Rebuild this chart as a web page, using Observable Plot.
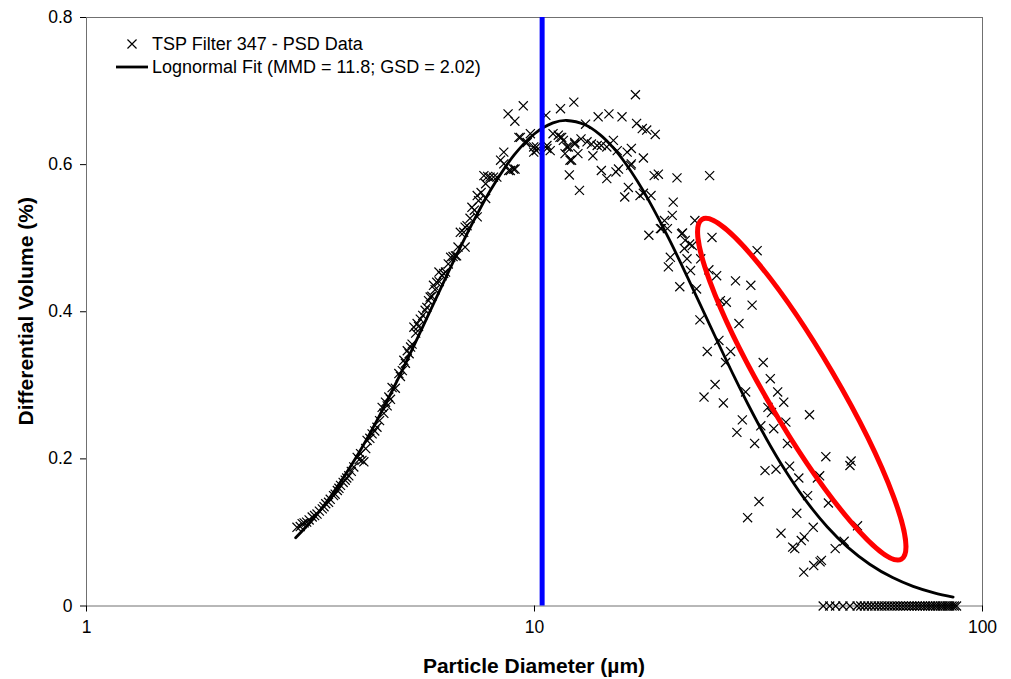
<!DOCTYPE html>
<html>
<head>
<meta charset="utf-8">
<script src="https://cdn.jsdelivr.net/npm/d3@7"></script>
<script src="https://cdn.jsdelivr.net/npm/@observablehq/plot@0.6"></script>
<style>
  html, body { margin: 0; padding: 0; background: #fff; }
  #chart { width: 1011px; height: 679px; }
</style>
</head>
<body>
<div id="chart"></div>
<script>
// Measured particle size distribution (diameter in µm, differential volume in %)
const psdDiameter = [
  2.95, 3.00, 3.03, 3.06, 3.10, 3.14, 3.19, 3.23, 3.27, 3.31, 3.36, 3.39, 3.42, 3.47, 3.50, 3.56, 3.59, 3.63, 3.66, 3.69,
  3.74, 3.78, 3.81, 3.85, 3.90, 3.95, 4.02, 4.06, 4.09, 4.12, 4.16, 4.20, 4.23, 4.29, 4.34, 4.40, 4.45, 4.51, 4.57, 4.61,
  4.65, 4.69, 4.73, 4.77, 4.81, 4.89, 4.98, 5.02, 5.07, 5.11, 5.15, 5.20, 5.25, 5.29, 5.33, 5.38, 5.43, 5.47, 5.51, 5.56,
  5.63, 5.70, 5.75, 5.80, 5.85, 5.90, 5.95, 6.00, 6.05, 6.12, 6.13, 6.22, 6.27, 6.33, 6.42, 6.50, 6.58, 6.66, 6.70, 6.75,
  6.83, 6.95, 7.00, 7.00, 7.07, 7.18, 7.25, 7.34, 7.45, 7.45, 7.50, 7.60, 7.71, 7.78, 7.78, 7.86, 7.96, 8.10, 8.24, 8.40,
  8.54, 8.54, 8.73, 8.76, 8.83, 8.98, 9.04, 9.05, 9.23, 9.30, 9.44, 9.55, 9.63, 9.79, 9.96, 9.96, 10.1, 10.1, 10.6, 10.66,
  10.66, 10.84, 11.0, 11.3, 11.4, 11.43, 11.5, 11.6, 11.7, 11.8, 11.9, 11.96, 12.0, 12.1, 12.24, 12.3, 12.3, 12.5, 12.6, 12.7,
  13.0, 13.1, 13.4, 13.5, 13.8, 13.87, 14.1, 14.1, 14.5, 14.5, 14.66, 15.0, 15.2, 15.3, 15.4, 15.68, 15.9, 16.1, 16.2, 16.4,
  16.45, 16.45, 16.8, 16.9, 17.2, 17.4, 17.5, 17.5, 17.8, 18.0, 18.2, 18.5, 18.6, 18.9, 19.1, 19.2, 19.5, 19.8, 19.9, 20.1,
  20.3, 20.4, 20.8, 21.1, 21.3, 21.4, 21.6, 21.7, 21.9, 22.2, 22.3, 22.5, 22.8, 23.0, 23.4, 23.5, 23.9, 24.3, 24.5, 24.6,
  24.9, 25.3, 25.5, 25.8, 26.0, 26.4, 26.7, 26.8, 27.4, 28.1, 28.3, 28.6, 29.1, 29.6, 29.9, 30.4, 30.6, 31.0, 31.4, 31.7,
  32.0, 32.4, 32.7, 33.2, 33.6, 33.8, 34.2, 34.6, 34.9, 35.5, 36.0, 36.4, 36.7, 37.1, 37.7, 38.1, 38.5, 38.9, 39.4, 39.9,
  40.0, 40.7, 41.1, 41.9, 42.0, 42.8, 43.3, 43.4, 43.7, 44.7, 45.3, 46.9, 49.1, 50.6, 50.9, 52.6
];
const psdVolume = [
  0.107, 0.108, 0.112, 0.113, 0.114, 0.117, 0.121, 0.123, 0.125, 0.129, 0.132, 0.135, 0.139, 0.141, 0.145, 0.150, 0.152, 0.157, 0.160, 0.164,
  0.168, 0.171, 0.174, 0.177, 0.183, 0.189, 0.202, 0.199, 0.207, 0.198, 0.196, 0.214, 0.225, 0.228, 0.234, 0.238, 0.243, 0.252, 0.270, 0.262,
  0.277, 0.272, 0.284, 0.281, 0.297, 0.296, 0.316, 0.312, 0.320, 0.334, 0.330, 0.347, 0.343, 0.352, 0.356, 0.379, 0.371, 0.384, 0.380, 0.390,
  0.395, 0.402, 0.406, 0.415, 0.420, 0.421, 0.436, 0.430, 0.440, 0.454, 0.441, 0.449, 0.452, 0.454, 0.465, 0.474, 0.475, 0.476, 0.476, 0.488,
  0.508, 0.508, 0.515, 0.488, 0.517, 0.527, 0.542, 0.538, 0.558, 0.529, 0.551, 0.562, 0.585, 0.554, 0.574, 0.584, 0.583, 0.583, 0.583, 0.606,
  0.617, 0.601, 0.669, 0.592, 0.592, 0.594, 0.659, 0.594, 0.637, 0.637, 0.680, 0.630, 0.630, 0.642, 0.624, 0.617, 0.619, 0.624, 0.667, 0.622,
  0.626, 0.619, 0.642, 0.640, 0.637, 0.676, 0.637, 0.633, 0.615, 0.624, 0.624, 0.586, 0.606, 0.606, 0.685, 0.628, 0.630, 0.615, 0.565, 0.635,
  0.655, 0.631, 0.628, 0.612, 0.626, 0.665, 0.626, 0.592, 0.624, 0.581, 0.669, 0.633, 0.590, 0.619, 0.594, 0.665, 0.556, 0.617, 0.569, 0.599,
  0.622, 0.601, 0.695, 0.656, 0.558, 0.649, 0.609, 0.561, 0.647, 0.504, 0.558, 0.585, 0.641, 0.587, 0.513, 0.513, 0.524, 0.513, 0.461, 0.474,
  0.531, 0.549, 0.582, 0.434, 0.506, 0.507, 0.486, 0.497, 0.472, 0.492, 0.456, 0.490, 0.524, 0.431, 0.389, 0.472, 0.284, 0.346, 0.457, 0.585,
  0.501, 0.301, 0.449, 0.361, 0.415, 0.276, 0.331, 0.413, 0.346, 0.442, 0.236, 0.384, 0.253, 0.291, 0.120, 0.436, 0.409, 0.221, 0.483, 0.142,
  0.245, 0.331, 0.184, 0.270, 0.309, 0.263, 0.241, 0.186, 0.291, 0.099, 0.277, 0.250, 0.221, 0.190, 0.080, 0.078, 0.126, 0.174, 0.089, 0.046,
  0.094, 0.150, 0.260, 0.107, 0.055, 0.174, 0.177, 0.060, 0.062, 0.203, 0.140, 0.078, 0.088, 0.191, 0.197, 0.109
];
// Size channels above ~44 µm that recorded no volume
const zeroDiameter = [
  44.1, 45.6, 47.0, 48.8, 50.6, 52.5, 53.5, 54.5, 55.5, 56.5, 57.5, 58.5, 59.5, 60.5, 61.5, 62.5, 63.5, 64.5, 65.5, 66.5,
  67.5, 68.5, 69.5, 70.5, 71.5, 72.5, 73.5, 74.5, 75.5, 76.5, 77.5, 78.5, 79.5, 80.5, 81.5, 82.5, 83.5, 84.5, 85.5, 86.5, 87.5
];
// Lognormal fit curve (MMD = 11.8, GSD = 2.02)
const fitDiameter = [2.93, 3.2, 3.5, 4, 4.5, 5, 5.5, 6, 6.5, 7, 7.5, 8, 9, 10, 11, 11.8, 13, 14, 15, 16, 17, 18, 20, 22, 24, 26, 28, 30, 33, 36, 40, 45, 50, 56, 63, 70, 78, 86];
const fitVolume = [0.0927, 0.1179, 0.1482, 0.2021, 0.2578, 0.3131, 0.3661, 0.4155, 0.4607, 0.5009, 0.5362, 0.5665, 0.6128, 0.6420, 0.6567, 0.6600, 0.6538, 0.6408, 0.6227, 0.6009, 0.5767, 0.5511, 0.4980, 0.4457, 0.3964, 0.3511, 0.3101, 0.2736, 0.2264, 0.1875, 0.1462, 0.1078, 0.0801, 0.0568, 0.0386, 0.0267, 0.0179, 0.0122];

// Reference diameter marked by the vertical line
const markerDiameter = [10.4];
// Centre of the highlighted coarse-tail region (diameter, volume)
const highlightCenter = [39.6, 0.294];

const xTicks = [1, 10, 100];
const yTicks = [0, 0.2, 0.4, 0.6, 0.8];
const legendLabels = ["TSP Filter 347 - PSD Data", "Lognormal Fit (MMD = 11.8; GSD = 2.02)"];
const xTitle = "Particle Diameter (µm)";
const yTitle = "Differential Volume (%)";

const points = psdDiameter.map((d, i) => ({d, v: psdVolume[i]}))
  .concat(zeroDiameter.map(d => ({d, v: 0})));
const fit = fitDiameter.map((d, i) => ({d, v: fitVolume[i]}));

const markerR = 4.2;
const fontFamily = "'Liberation Sans', Arial, sans-serif";

// Red ellipse drawn around the coarse-tail points
function highlightMark(index, scales) {
  const cx = scales.x(highlightCenter[0]);
  const cy = scales.y(highlightCenter[1]);
  return d3.create("svg:ellipse")
    .attr("cx", cx).attr("cy", cy)
    .attr("rx", 197).attr("ry", 35)
    .attr("transform", `rotate(59.6 ${cx} ${cy})`)
    .attr("fill", "none")
    .attr("stroke", "#ff0000")
    .attr("stroke-width", 5)
    .node();
}

// Legend in the upper-left corner of the plot area
function legendMark(index, scales, values, dims) {
  const x0 = dims.marginLeft, y0 = dims.marginTop;
  const g = d3.create("svg:g")
    .attr("font-size", 18).attr("font-family", fontFamily)
    .attr("fill", "#000").attr("text-anchor", "start");
  g.append("path")
    .attr("d", d3.symbol(d3.symbolTimes, Math.PI * markerR * markerR)())
    .attr("transform", `translate(${x0 + 46},${y0 + 27})`)
    .attr("fill", "none").attr("stroke", "#000").attr("stroke-width", 1.2);
  g.append("text").attr("x", x0 + 66).attr("y", y0 + 27).attr("dy", "0.35em").text(legendLabels[0]);
  g.append("line")
    .attr("x1", x0 + 30).attr("x2", x0 + 62)
    .attr("y1", y0 + 50).attr("y2", y0 + 50)
    .attr("stroke", "#000").attr("stroke-width", 2.8);
  g.append("text").attr("x", x0 + 66).attr("y", y0 + 50).attr("dy", "0.35em").text(legendLabels[1]);
  return g.node();
}

// Axis titles, placed relative to the plot frame
function titlesMark(index, scales, values, dims) {
  const {width, height, marginLeft, marginRight, marginTop, marginBottom} = dims;
  const g = d3.create("svg:g")
    .attr("font-size", 21).attr("font-weight", "bold")
    .attr("font-family", fontFamily).attr("fill", "#000")
    .attr("text-anchor", "middle");
  const cx = (marginLeft + width - marginRight) / 2;
  const cy = (marginTop + height - marginBottom) / 2;
  g.append("text").attr("x", cx).attr("y", height - 6).text(xTitle);
  g.append("text").attr("transform", `translate(${33},${cy}) rotate(-90)`).text(yTitle);
  return g.node();
}

const chart = Plot.plot({
  width: 1011,
  height: 679,
  marginLeft: 86,
  marginRight: 29,
  marginTop: 17,
  marginBottom: 73.5,
  style: {fontFamily, fontSize: "17.5px", color: "#000", background: "#fff"},
  x: {type: "log", domain: [1, 100]},
  y: {domain: [0, 0.8]},
  marks: [
    Plot.frame({stroke: "#707070"}),
    Plot.axisX({ticks: xTicks, tickFormat: d => String(d), tickSize: 6, tickPadding: 9, label: null, fontSize: 17.5}),
    Plot.axisY({ticks: yTicks, tickFormat: d => d === 0 ? "0" : String(d), tickSize: 6, tickPadding: 8, label: null, fontSize: 17.5}),
    Plot.dot(points, {x: "d", y: "v", symbol: "times", r: markerR, stroke: "#000", strokeWidth: 1.2}),
    Plot.line(fit, {x: "d", y: "v", stroke: "#000", strokeWidth: 2.8, curve: "catmull-rom"}),
    Plot.ruleX(markerDiameter, {stroke: "#0000ff", strokeWidth: 5}),
    highlightMark,
    legendMark,
    titlesMark
  ]
});

document.getElementById("chart").appendChild(chart);
</script>
</body>
</html>
